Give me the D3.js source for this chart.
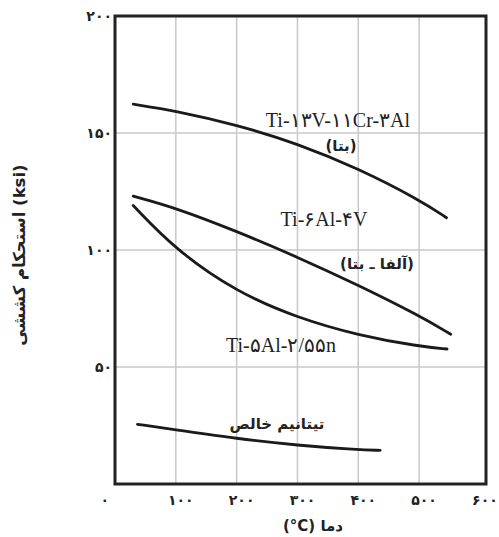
<!DOCTYPE html>
<html>
<head>
<meta charset="utf-8">
<script src="https://cdn.jsdelivr.net/npm/d3@7"></script>
<style>
  body { margin: 0; background: #fff; }
  svg { display: block; }
  .tick-label { font-family: "DejaVu Sans", sans-serif; font-weight: bold; font-size: 14px; letter-spacing: 6px; fill: #222; }
  .alloy { font-family: "Liberation Serif", "DejaVu Serif", serif; font-size: 20px; fill: #222; }
  .fa { font-family: "DejaVu Sans", sans-serif; font-weight: bold; font-size: 15px; fill: #222; }
  .title { font-family: "DejaVu Sans", sans-serif; font-weight: bold; font-size: 15px; fill: #222; }
</style>
</head>
<body>
<svg></svg>
<script>
// tick labels (Persian digits)
const tempTicks = [0, 100, 200, 300, 400, 500, 600];
const tempTickLabels = ['۰', '۱۰۰', '۲۰۰', '۳۰۰', '۴۰۰', '۵۰۰', '۶۰۰'];
const strengthTicks = [0, 50, 100, 150, 200];
const strengthTickLabels = ['۰', '۵۰', '۱۰۰', '۱۵۰', '۲۰۰'];

// series: temperature (C) vs tensile strength (ksi)
const betaTemp = [30, 100, 200, 300, 400, 500, 545];
const betaStrength = [162.3, 159.5, 153.5, 145.5, 134.8, 121.5, 113.8];

const alphaBetaTemp = [30, 100, 200, 300, 400, 500, 552];
const alphaBetaStrength = [123, 118, 108, 97, 85, 72, 64];

const snTemp = [30, 100, 200, 300, 400, 500, 546];
const snStrength = [119, 100, 82, 71, 63.5, 58.8, 57.7];

const pureTemp = [37, 100, 200, 300, 400, 436];
const pureStrength = [25.5, 23.2, 19.4, 16.5, 14.6, 14.4];

const W = 499, H = 537;
const svg = d3.select('svg').attr('width', W).attr('height', H);

const x = d3.scaleLinear().domain([0, 610]).range([115, 486]);
const y = d3.scaleLinear().domain([0, 200]).range([484, 16]);

// grid
svg.append('g')
  .selectAll('line')
  .data(tempTicks.filter(d => d > 0 && d < 600))
  .enter().append('line')
  .attr('x1', d => x(d)).attr('x2', d => x(d))
  .attr('y1', y(0)).attr('y2', y(200))
  .attr('stroke', '#c8c8cc').attr('stroke-width', 1.5);

svg.append('g')
  .selectAll('line')
  .data(strengthTicks.filter(d => d > 0 && d < 200))
  .enter().append('line')
  .attr('x1', x(0)).attr('x2', x(610))
  .attr('y1', d => y(d)).attr('y2', d => y(d))
  .attr('stroke', '#c8c8cc').attr('stroke-width', 1.5);

// frame
svg.append('rect')
  .attr('x', x(0)).attr('y', y(200))
  .attr('width', x(610) - x(0)).attr('height', y(0) - y(200))
  .attr('fill', 'none').attr('stroke', '#222').attr('stroke-width', 3);

// tick labels
svg.append('g')
  .selectAll('text')
  .data(tempTicks.slice(1))
  .enter().append('text')
  .attr('class', 'tick-label')
  .attr('x', d => x(d) + 5)
  .attr('y', 505)
  .attr('text-anchor', 'middle')
  .text((d, i) => tempTickLabels[i + 1]);

svg.append('g')
  .selectAll('text')
  .data(strengthTicks.slice(1))
  .enter().append('text')
  .attr('class', 'tick-label')
  .attr('x', 112)
  .attr('y', d => y(d) + 5)
  .attr('text-anchor', 'end')
  .text((d, i) => strengthTickLabels[i + 1]);

// shared zero at the corner
svg.append('text')
  .attr('class', 'tick-label')
  .attr('x', 109).attr('y', 505)
  .attr('text-anchor', 'end')
  .text(tempTickLabels[0]);

// curves
const line = d3.line()
  .x(d => x(d[0]))
  .y(d => y(d[1]))
  .curve(d3.curveBasis);

const series = [
  [betaTemp, betaStrength],
  [alphaBetaTemp, alphaBetaStrength],
  [snTemp, snStrength],
  [pureTemp, pureStrength]
];

svg.append('g')
  .selectAll('path')
  .data(series)
  .enter().append('path')
  .attr('d', s => line(d3.zip(s[0], s[1])))
  .attr('fill', 'none')
  .attr('stroke', '#1a1a1a')
  .attr('stroke-width', 2.8)
  .attr('stroke-linecap', 'round');

// curve labels
const labels = [
  { t: 'Ti-۱۳V-۱۱Cr-۳Al', x: 338, y: 127, c: 'alloy' },
  { t: '(بتا)', x: 341, y: 151, c: 'fa' },
  { t: 'Ti-۶Al-۴V', x: 324, y: 226, c: 'alloy' },
  { t: '(آلفا ـ بتا)', x: 377, y: 269, c: 'fa' },
  { t: 'Ti-۵Al-۲/۵۵n', x: 281, y: 352, c: 'alloy' },
  { t: 'تیتانیم خالص', x: 277, y: 429, c: 'fa' }
];

svg.append('g')
  .selectAll('text')
  .data(labels)
  .enter().append('text')
  .attr('class', d => d.c)
  .attr('x', d => d.x).attr('y', d => d.y)
  .attr('text-anchor', 'middle')
  .text(d => d.t);

// axis titles
svg.append('text')
  .attr('class', 'title')
  .attr('x', 313).attr('y', 531)
  .attr('text-anchor', 'middle')
  .text('(°C) دما');

svg.append('text')
  .attr('class', 'title')
  .style('font-size', '16.5px')
  .attr('transform', 'translate(25,255) rotate(-90)')
  .attr('text-anchor', 'middle')
  .text('استحکام کششی (ksi)');
</script>
</body>
</html>
